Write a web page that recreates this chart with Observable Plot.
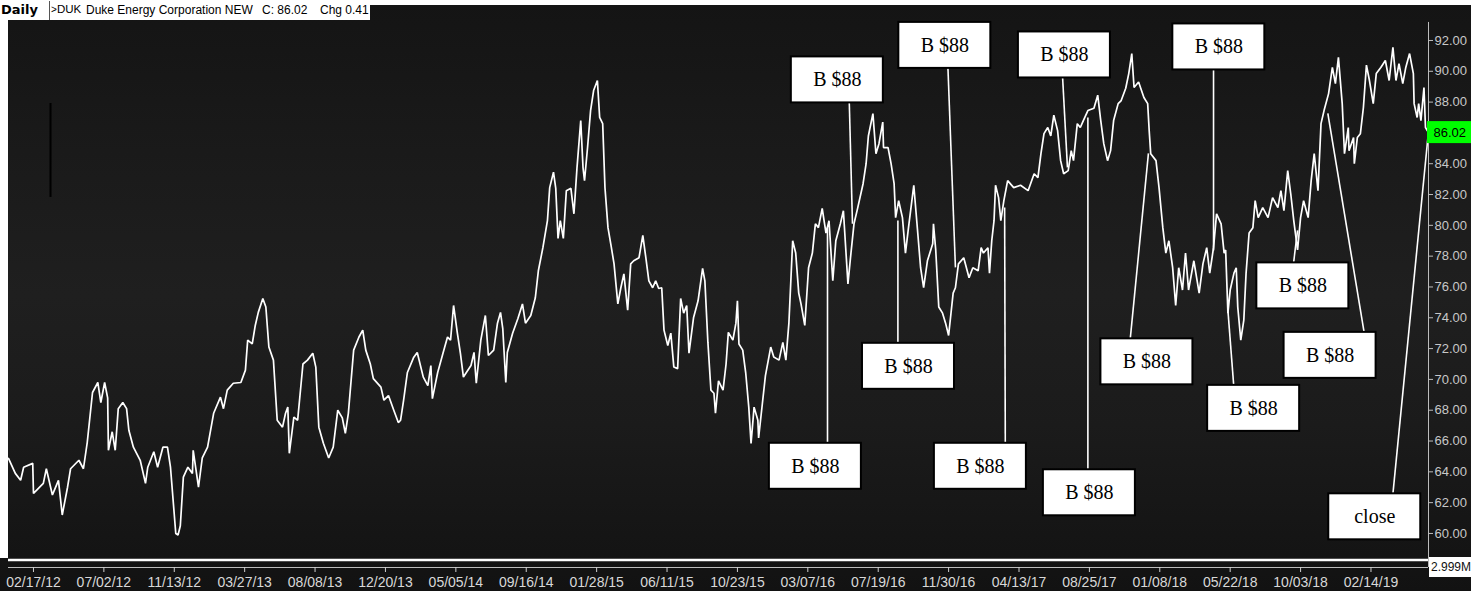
<!DOCTYPE html>
<html>
<head>
<meta charset="utf-8">
<script src="https://cdn.jsdelivr.net/npm/d3@7"></script>
<script src="https://cdn.jsdelivr.net/npm/@observablehq/plot@0.6"></script>
<style>
  body { margin: 0; background: #fff; }
  #wrap { position: relative; width: 1471px; height: 591px; overflow: hidden; }
  #wrap svg { display: block; max-width: none; }
  .ov { position: absolute; background: #fff; }
  #hdr { position: absolute; left: 0; top: 0; width: 370px; height: 20px; background: #fff;
         font: 12px "Liberation Sans", Arial, sans-serif; color: #000; white-space: pre; }
  #hdr span { position: absolute; top: 3px; }
  #vol { position: absolute; left: 1429px; top: 557px; width: 42px; height: 20px; background: #fff;
         font: 12px "Liberation Sans", Arial, sans-serif; color: #111; line-height: 20px; padding-left: 2px; box-sizing: border-box; white-space: nowrap; }
</style>
</head>
<body>
<div id="wrap">
  <div class="ov" style="left:0;top:0;width:1471px;height:5px"></div>
  <div class="ov" style="left:0;top:0;width:8px;height:558px"></div>
  <div id="hdr">
    <span style="left:1px;top:2px;font:bold 13px 'DejaVu Sans', sans-serif">Daily</span>
    <span style="left:49px;top:1px;width:1px;height:19px;background:#555"></span>
    <span style="left:51px;font-size:10px;top:4px">&gt;</span>
    <span style="left:57px;font-size:11.5px">DUK</span>
    <span style="left:86px">Duke Energy Corporation NEW</span>
    <span style="left:262px">C: 86.02</span>
    <span style="left:320px">Chg 0.41</span>
  </div>
  <div id="vol">2.999M</div>
</div>
<script>
// Daily closes: [trading-day index, close]
const dailyCloses = [
[0,64.87],[9,63.9],[16,63.45],[20,64.3],[32,64.55],[33,62.6],[46,63.25],[50,64.2],[58,62.5],[66,63.45],[71,61.2],[78,63.0],[82,64.2],[93,64.75],[99,64.2],[104,65.9],[111,69.15],[118,69.8],[122,68.5],[127,69.8],[131,68.8],[132,65.4],[137,66.6],[141,65.4],[145,68.1],[151,68.5],[156,68.1],[159,66.7],[165,65.6],[174,64.75],[181,63.25],[184,64.3],[192,65.3],[197,64.3],[204,65.6],[210,65.6],[214,64.3],[221,60.0],[224,59.9],[227,60.5],[231,63.65],[237,64.3],[243,63.9],[244,65.4],[251,63.0],[256,64.9],[263,65.6],[271,67.8],[280,68.85],[284,68.1],[289,69.3],[297,69.75],[307,69.8],[313,70.6],[316,72.55],[322,72.3],[326,73.5],[330,74.35],[336,75.25],[340,74.7],[344,72.1],[350,71.25],[355,67.35],[362,66.9],[366,67.8],[369,68.2],[371,65.2],[377,67.55],[382,67.35],[389,71.0],[395,71.25],[402,71.7],[406,70.8],[410,66.9],[416,65.85],[423,64.9],[429,65.6],[435,68.0],[441,67.5],[445,66.5],[449,67.8],[456,71.9],[463,72.75],[468,73.2],[472,71.9],[478,71.0],[482,70.05],[492,69.5],[496,68.65],[502,68.95],[509,68.0],[515,67.2],[518,67.35],[522,68.65],[527,70.45],[535,71.4],[540,71.75],[548,70.15],[554,69.6],[558,70.9],[560,68.75],[567,70.45],[574,71.7],[580,72.75],[584,72.55],[588,74.8],[593,73.0],[597,71.7],[601,70.15],[611,70.9],[615,71.75],[618,69.75],[624,72.55],[630,74.15],[634,71.55],[641,71.9],[646,73.65],[650,74.35],[653,73.3],[657,69.8],[659,71.75],[666,73.0],[673,73.95],[679,74.9],[683,73.65],[690,74.15],[696,75.3],[700,77.05],[706,78.55],[712,80.3],[715,82.45],[720,83.45],[723,82.4],[726,79.15],[729,80.3],[733,79.15],[737,82.25],[743,82.4],[747,80.75],[751,83.7],[756,86.8],[759,83.75],[761,82.9],[765,85.05],[769,87.45],[773,88.75],[778,89.4],[781,87.0],[785,86.6],[788,82.45],[792,79.85],[796,78.7],[800,77.5],[805,74.9],[809,75.95],[813,76.85],[818,74.5],[822,77.5],[826,77.7],[833,77.9],[838,79.35],[842,77.9],[846,76.4],[851,75.95],[855,76.4],[859,75.9],[863,75.95],[866,73.2],[871,72.2],[875,73.0],[879,70.8],[884,70.7],[888,75.25],[892,74.3],[896,74.8],[899,71.7],[905,74.0],[911,75.1],[917,77.2],[920,76.4],[924,72.4],[928,69.3],[932,69.1],[934,67.8],[938,69.9],[944,69.3],[948,71.0],[951,73.05],[957,72.55],[961,73.65],[963,75.1],[965,72.3],[970,71.9],[974,70.4],[978,68.2],[981,65.85],[985,68.2],[990,67.35],[991,66.2],[996,68.45],[1000,70.25],[1007,72.1],[1011,71.45],[1018,71.25],[1023,72.4],[1027,71.25],[1031,73.65],[1036,79.0],[1040,78.2],[1044,75.6],[1047,74.9],[1052,73.5],[1057,77.25],[1062,78.2],[1066,80.1],[1070,79.85],[1075,81.1],[1080,79.5],[1084,80.3],[1089,76.4],[1093,79.0],[1099,80.1],[1103,80.95],[1109,76.2],[1113,78.2],[1117,80.1],[1122,81.15],[1129,82.7],[1133,84.0],[1136,85.8],[1142,87.25],[1146,84.65],[1150,85.3],[1155,86.7],[1156,85.05],[1162,85.05],[1166,84.0],[1170,82.7],[1172,80.5],[1176,81.6],[1181,80.5],[1185,78.2],[1189,79.85],[1196,82.6],[1201,79.65],[1205,77.25],[1209,75.95],[1214,77.7],[1221,78.8],[1222,80.1],[1225,78.4],[1229,74.7],[1234,74.3],[1238,73.65],[1242,72.85],[1248,75.6],[1251,75.95],[1255,77.5],[1262,77.9],[1269,76.6],[1274,77.25],[1281,77.05],[1285,78.55],[1288,78.2],[1294,78.55],[1296,76.9],[1299,79.0],[1302,80.3],[1304,82.6],[1308,81.8],[1311,80.3],[1315,81.6],[1320,82.9],[1328,82.45],[1337,82.6],[1347,82.25],[1355,83.35],[1360,83.1],[1364,84.65],[1368,85.95],[1373,86.35],[1377,85.8],[1381,87.15],[1386,86.15],[1390,84.2],[1394,83.35],[1400,83.55],[1404,84.85],[1407,84.2],[1412,86.6],[1416,86.35],[1420,86.8],[1426,87.45],[1434,87.6],[1439,88.45],[1443,86.8],[1447,85.3],[1452,84.2],[1456,84.85],[1460,86.8],[1466,87.9],[1470,88.1],[1476,88.9],[1480,89.85],[1484,91.15],[1487,88.95],[1493,89.3],[1500,88.3],[1505,87.9],[1507,86.15],[1509,84.65],[1516,84.2],[1520,82.45],[1525,79.85],[1529,78.2],[1533,79.0],[1538,77.25],[1542,74.8],[1546,77.25],[1551,75.8],[1555,78.2],[1559,75.8],[1566,77.7],[1573,75.6],[1578,77.5],[1583,78.55],[1587,76.9],[1592,78.55],[1596,80.75],[1602,80.1],[1606,78.2],[1608,78.4],[1611,74.3],[1614,75.8],[1619,76.9],[1622,77.25],[1624,74.7],[1628,72.55],[1632,73.85],[1635,76.9],[1639,79.5],[1644,79.85],[1647,81.6],[1651,80.5],[1657,81.15],[1664,80.5],[1670,81.8],[1677,81.15],[1681,82.25],[1685,80.95],[1690,83.55],[1694,82.05],[1698,80.3],[1703,78.4],[1707,80.5],[1711,81.6],[1717,80.5],[1721,82.9],[1725,84.65],[1730,82.25],[1734,86.6],[1738,87.45],[1744,88.55],[1749,90.25],[1753,89.2],[1757,90.9],[1762,87.9],[1765,84.65],[1770,86.35],[1771,84.85],[1777,85.7],[1778,84.0],[1782,85.7],[1786,85.95],[1790,87.65],[1794,90.4],[1798,89.4],[1803,87.9],[1807,89.85],[1813,90.25],[1819,90.7],[1824,89.4],[1829,91.55],[1833,89.4],[1837,90.5],[1842,89.2],[1846,90.25],[1851,91.15],[1856,89.85],[1857,87.9],[1861,87.0],[1863,87.9],[1866,86.8],[1870,88.95],[1872,86.35],[1876,86.02]
];

// Date axis: trading-day index of each labelled date
const tickBar = [33,126,219,312,405,498,591,684,777,870,963,1056,1149,1242,1335,1428,1521,1614,1707,1800];
const tickLabel = ["02/17/12","07/02/12","11/13/12","03/27/13","08/08/13","12/20/13","05/05/14","09/16/14","01/28/15","06/11/15","10/23/15","03/07/16","07/19/16","11/30/16","04/13/17","08/25/17","01/08/18","05/22/18","10/03/18","02/14/19"];
const priceTicks = [60,62,64,66,68,70,72,74,76,78,80,82,84,86,88,90,92];
const lastClose = 86.02;

// Annotations: label text, label position (index, price), leader start index, target (index, price)
const annText     = ["B $88","B $88","B $88","B $88","B $88","B $88","B $88","B $88","B $88","B $88","B $88","B $88","close"];
const annBoxBar   = [1095,1237,1395,1599,1066,1189,1284,1428,1504,1645,1710,1746,1805];
const annBoxPrice = [89.44,91.68,91.06,91.58,64.36,70.85,64.36,62.64,71.14,68.12,76.07,71.56,61.08];
const annFromBar  = [1110,1240,1391,1592,1082,1175,1317,1426,1479,1621,1694,1796,1826];
const annToBar    = [1115,1251,1399,1592,1082,1175,1316,1426,1506,1611,1703,1743,1876];
const annToPrice  = [80.1,77.27,83.76,78.37,79.86,80.32,81.16,87.0,84.67,74.48,79.67,87.26,86.1];

const series = dailyCloses.map(([bar, close]) => ({bar, close}));
const anns = annText.map((text, i) => ({
  text, bx: annBoxBar[i], by: annBoxPrice[i], ax: annFromBar[i], tx: annToBar[i], ty: annToPrice[i]
}));
const labelOf = new Map(tickBar.map((b, i) => [b, tickLabel[i]]));
const lastBar = dailyCloses[dailyCloses.length - 1][0];
const xDomain = [0, lastBar];
const yDomain = [57.79, 94.27];

const chart = Plot.plot({
  width: 1471,
  height: 591,
  marginLeft: 8,
  marginRight: 43,
  marginTop: 5,
  marginBottom: 24,
  x: {domain: xDomain},
  y: {domain: yDomain},
  style: {color: "#d2d2d2", fontFamily: "Liberation Sans, Arial, sans-serif"},
  marks: [
    Plot.ruleY([58.28], {stroke: "#ffffff", strokeWidth: 2.5}),
    Plot.ruleX([55.5], {y1: 81.81, y2: 87.91, stroke: "#000", strokeWidth: 2}),
    Plot.line(series, {x: "bar", y: "close", stroke: "#ffffff", strokeWidth: 1.7, strokeLinejoin: "miter"}),
    Plot.link(anns, {x1: "ax", y1: "by", x2: "tx", y2: "ty", stroke: "#ffffff", strokeWidth: 1.6}),
    Plot.rect(anns, {x1: "bx", x2: "bx", y1: "by", y2: "by", insetLeft: -46, insetRight: -46, insetTop: -23, insetBottom: -23,
                     fill: "#ffffff", stroke: "#000", strokeWidth: 2}),
    Plot.text(anns, {x: "bx", y: "by", text: "text", fontFamily: "Liberation Serif, Times New Roman, serif", fontSize: 20, fill: "#000"}),
    Plot.axisY(priceTicks, {anchor: "right", tickSize: 4, tickPadding: 2, tickFormat: d => d.toFixed(2), fontSize: 13, label: null, stroke: "#bdbdbd", fill: "#c8c8c8"}),
    Plot.ruleX([lastBar], {y1: 93.17, y2: yDomain[0], stroke: "#bdbdbd"}),
    Plot.ruleY([yDomain[0]], {stroke: "#bdbdbd"}),
    Plot.axisX(tickBar, {tickSize: 5, tickPadding: 5, tickFormat: d => labelOf.get(d), fontSize: 14, label: null, stroke: "#d0d0d0", fill: "#d8d8d8"}),
    Plot.rect([lastClose], {x1: lastBar, x2: lastBar, y1: d => d, y2: d => d, insetLeft: -1, insetRight: -44, insetTop: -11, insetBottom: -11, fill: "#00ff00"}),
    Plot.text([lastClose], {x: lastBar, y: d => d, text: d => d.toFixed(2), dx: 5, textAnchor: "start", fill: "#000", fontSize: 13})
  ]
});
chart.style.background = "linear-gradient(to bottom, #141414 0%, #1b1b1b 30%, #1f1f1f 50%, #1b1b1b 72%, #121212 100%)";
chart.style.maxWidth = "none";
document.getElementById("wrap").prepend(chart);
</script>
</body>
</html>
